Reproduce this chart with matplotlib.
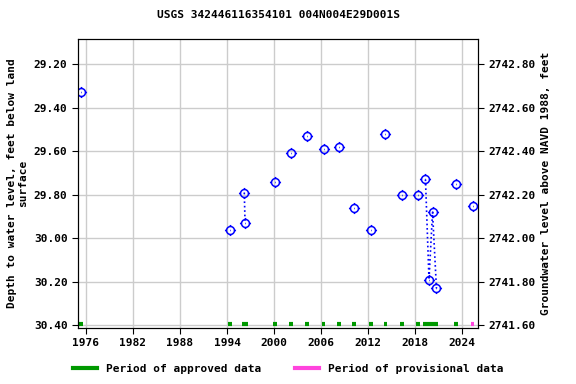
import matplotlib
matplotlib.use("Agg")
import matplotlib.pyplot as plt
import numpy as np
from matplotlib.path import Path

# measurements (decimal year, depth below land surface in feet)
years = [1975.36, 1994.4, 1996.2, 1996.3, 2000.15, 2002.2, 2004.2, 2006.3,
         2008.3, 2010.2, 2012.3, 2014.2, 2016.35, 2018.3, 2019.3, 2019.75,
         2020.2, 2020.7, 2023.2, 2025.3]
depths = [29.33, 29.96, 29.79, 29.93, 29.74, 29.61, 29.53, 29.59,
          29.58, 29.86, 29.96, 29.52, 29.80, 29.80, 29.73, 30.19,
          29.88, 30.23, 29.75, 29.85]
# runs of measurements joined by dotted lines (index ranges)
joined = [(2, 3), (14, 17)]

approved = [(1975.36, 1975.36), (1994.4, 1994.4), (1996.1, 1996.4), (2000.15, 2000.15),
            (2002.2, 2002.2), (2004.2, 2004.2), (2006.3, 2006.3), (2008.3, 2008.3),
            (2010.2, 2010.2), (2012.3, 2012.3), (2014.2, 2014.2), (2016.35, 2016.35),
            (2018.3, 2018.3), (2019.2, 2020.7), (2023.2, 2023.2)]
provisional = [(2025.3, 2025.3)]

datum = 2772.00
xticks = [1976, 1982, 1988, 1994, 2000, 2006, 2012, 2018, 2024]
yticks = [29.20, 29.40, 29.60, 29.80, 30.00, 30.20, 30.40]

plt.rcParams['font.family'] = ['DejaVu Sans Mono']
plt.rcParams['font.weight'] = 'bold'

# circle with four ticks and a centre dot
t = np.linspace(0, 2 * np.pi, 33)
verts = [(np.cos(a), np.sin(a)) for a in t]
codes = [Path.MOVETO] + [Path.LINETO] * (len(t) - 1)
for dx, dy in [(1, 0), (-1, 0), (0, 1), (0, -1)]:
    verts += [(dx, dy), (dx * 1.4, dy * 1.4)]
    codes += [Path.MOVETO, Path.LINETO]
verts += [(-0.08, 0), (0.08, 0)]
codes += [Path.MOVETO, Path.LINETO]
mark = Path(verts, codes)

fig = plt.figure(figsize=(5.76, 3.84), dpi=100)
ax = fig.add_axes([0.1354, 0.1458, 0.6945, 0.7526])

for a, b in joined:
    ax.plot(years[a:b + 1], depths[a:b + 1], ':', color='blue', lw=1.2)
ax.plot(years, depths, linestyle='none', marker=mark, markersize=8,
        markerfacecolor='none', markeredgecolor='blue', markeredgewidth=1.1)

for s, e in approved:
    ax.plot([s - 0.25, e + 0.25], [30.395, 30.395], color='#009900', lw=3,
            solid_capstyle='butt')
for s, e in provisional:
    ax.plot([s - 0.25, e + 0.25], [30.395, 30.395], color='#ff44dd', lw=3,
            solid_capstyle='butt')

ax.set_xlim(1975.0, 2026.0)
ax.set_ylim(30.412, 29.085)
ax.set_xticks(xticks)
ax.set_yticks(yticks)
ax.set_yticklabels([f"{v:.2f}" for v in yticks])
ax.grid(True, color='#cccccc', lw=1)
ax.set_axisbelow(True)
ax.tick_params(labelsize=8, direction='out', length=4)
ax.set_ylabel("Depth to water level, feet below land\nsurface", fontsize=8,
              fontweight='bold')
ax.set_title("USGS 342446116354101 004N004E29D001S", fontsize=8,
             fontweight='bold', pad=15)

ax2 = ax.twinx()
ax2.set_ylim(datum - 30.412, datum - 29.085)
rt = [datum - v for v in yticks]
ax2.set_yticks(rt)
ax2.set_yticklabels([f"{v:.2f}" for v in rt])
ax2.tick_params(labelsize=8, direction='out', length=4)
ax2.set_ylabel("Groundwater level above NAVD 1988, feet", fontsize=8,
               fontweight='bold')

h1, = ax.plot([], [], color='#009900', lw=3)
h2, = ax.plot([], [], color='#ff44dd', lw=3)
fig.legend([h1, h2], ["Period of approved data", "Period of provisional data"],
           loc='lower center', bbox_to_anchor=(0.5, 0.0), ncol=2, frameon=False,
           fontsize=8, handlelength=2.2, columnspacing=3)

fig.savefig("out.png", dpi=100)
